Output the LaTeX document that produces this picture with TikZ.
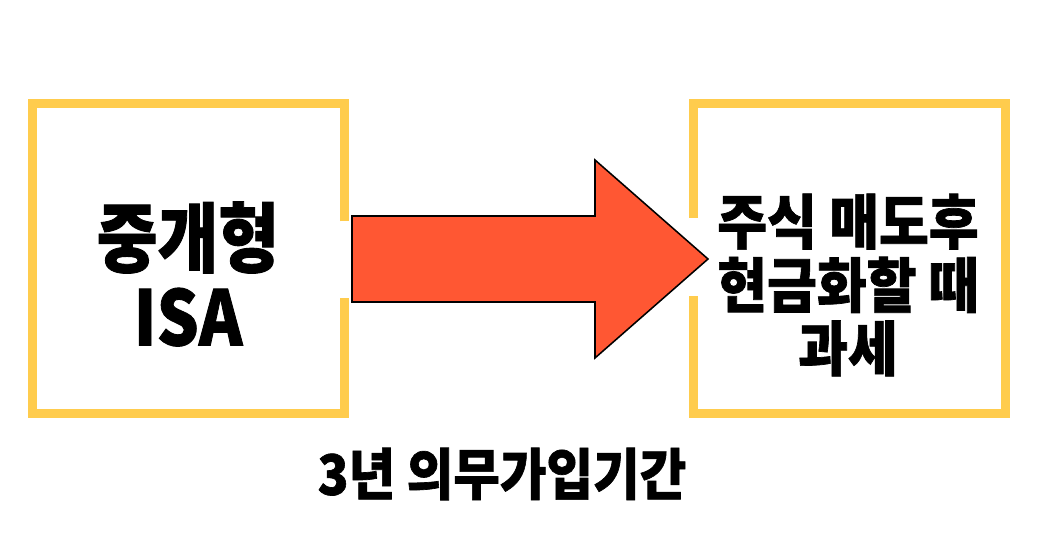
\documentclass[tikz,border=0pt]{standalone}
\usepackage{fontspec}
\setmainfont{Noto Sans CJK KR}[BoldFeatures={FakeBold=1.2}]
\usepackage{tikz}
\usetikzlibrary{positioning}

\definecolor{frameyellow}{RGB}{255,204,77}
\definecolor{arroworange}{RGB}{255,87,51}

\tikzset{
  frame/.style={draw=frameyellow, line width=6.4pt, line join=miter},
  bigarrow/.style={draw=black, fill=arroworange, line width=1.1pt, line join=miter},
  boxtext/.style={align=center, inner sep=0pt, font=\bfseries, text=black}
}

\begin{document}
\begin{tikzpicture}[x=0.025cm, y=-0.025cm]
  \useasboundingbox[fill=white] (0,0) rectangle (1041,551);
  % Frames with an opening for the arrow:
  \draw[frame] (344.5,221.5) -- (344.5,103.5) -- (32.5,103.5) -- (32.5,413.5) -- (344.5,413.5) -- (344.5,298);
  \draw[frame] (693.5,218) -- (693.5,103.5) -- (1005.5,103.5) -- (1005.5,413.5) -- (693.5,413.5) -- (693.5,296);
  % Arrow:
  \draw[bigarrow] (352,216) -- (595,216) -- (595,160) -- (708,259) -- (595,358) -- (595,302) -- (352,302) -- cycle;
  % Texts:
  \node[boxtext, font=\bfseries\fontsize{47}{49}\selectfont, yscale=1.15] (isa) at (188,274) {중개형\\ISA};
  \node[boxtext, font=\bfseries\fontsize{38.5}{41}\selectfont, yscale=1.1] (tax) at (848,285) {주식 매도후\\현금화할 때\\과세};
  \node[boxtext, font=\bfseries\fontsize{36}{42}\selectfont, yscale=1.1] (term) at (502,474) {3년 의무가입기간};
\end{tikzpicture}
\end{document}
